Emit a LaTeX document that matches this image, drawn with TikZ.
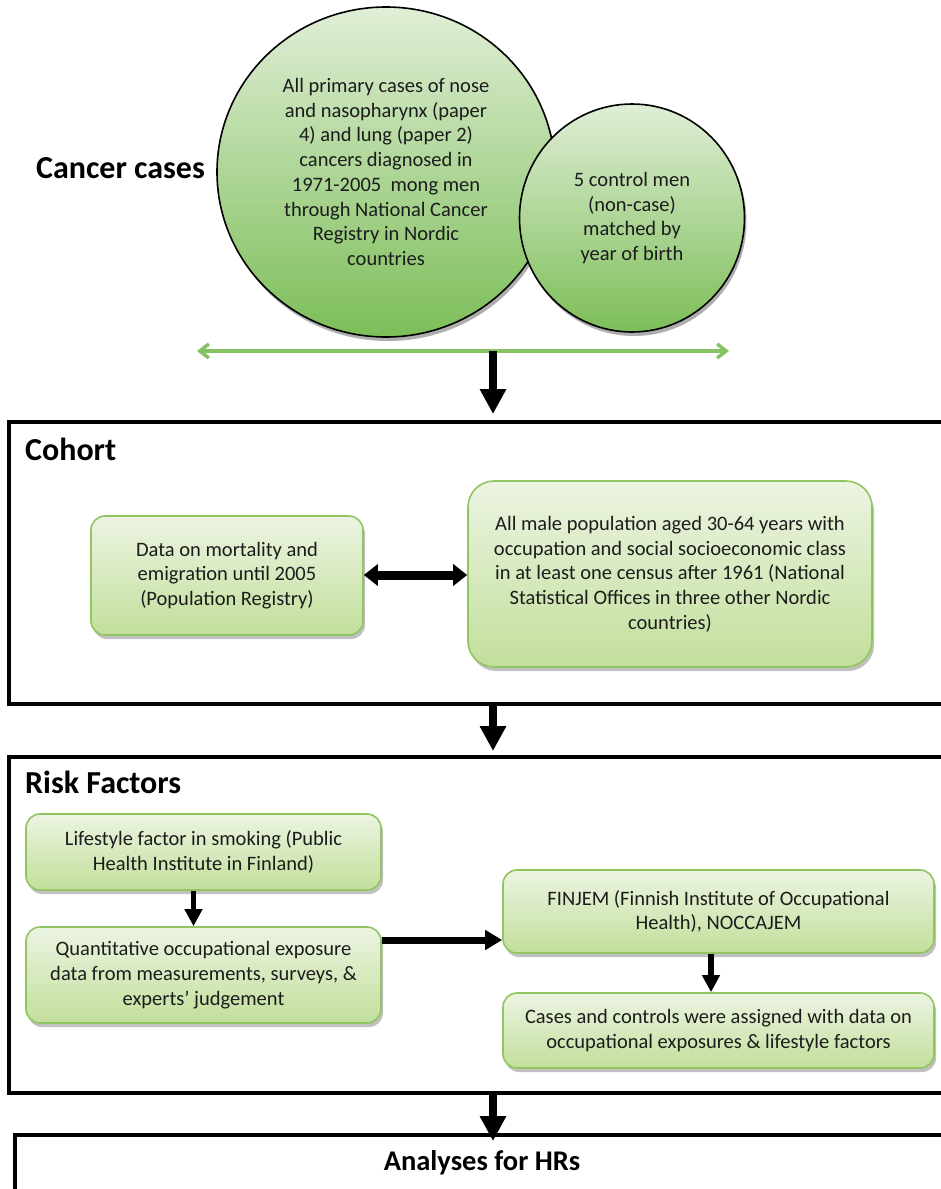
\documentclass[tikz,border=0pt]{standalone}
\usepackage{fontspec}
\setmainfont{Carlito}
\usetikzlibrary{arrows.meta,shadows,shapes.geometric,calc}

\definecolor{gbord}{RGB}{146,196,98}
\definecolor{gtop}{RGB}{236,244,226}
\definecolor{gbot}{RGB}{194,223,155}
\definecolor{etop}{RGB}{224,238,214}
\definecolor{emid}{RGB}{160,209,126}
\definecolor{ebot}{RGB}{124,190,88}
\definecolor{gline}{RGB}{132,194,98}
\definecolor{txt}{RGB}{28,28,28}

\tikzset{
  bodyfont/.style={font=\fontsize{20.5}{24.7}\selectfont},
  headfont/.style={font=\fontsize{32}{38}\selectfont\bfseries},
  gbox/.style={draw=gbord, line width=1.6pt, rounded corners=14pt,
    top color=gtop, bottom color=gbot, align=center, text=txt, inner sep=0pt,
    bodyfont,
    drop shadow={shadow xshift=2pt, shadow yshift=-4pt, opacity=0.35, fill=black!70}},
  gell/.style={ellipse, draw=black, line width=1.6pt, inner sep=0pt,
    top color=etop, middle color=emid, bottom color=ebot, align=center, text=txt,
    bodyfont,
    drop shadow={shadow xshift=2pt, shadow yshift=-4pt, opacity=0.45, fill=black!70}},
  container/.style={draw=black, line width=3.6pt, anchor=north west, inner sep=0pt},
  title/.style={anchor=base west, inner sep=0pt, headfont, text=black},
  fatarrow/.style={draw=black, line width=8pt, -{Triangle[width=25pt,length=25pt]}},
  dblarrow/.style={draw=black, line width=9pt, {Triangle[width=21pt,length=14pt]}-{Triangle[width=21pt,length=14pt]}},
  smallarrow/.style={draw=black, line width=5.5pt, -{Triangle[width=17pt,length=17pt]}},
  medarrow/.style={draw=black, line width=7pt, -{Triangle[width=19pt,length=17pt]}},
  greenarrow/.style={draw=gline, line width=3.5pt, {Straight Barb[length=9pt,width=14pt]}-{Straight Barb[length=9pt,width=14pt]}},
}

\begin{document}
\begin{tikzpicture}[x=1pt,y=-1pt]
\useasboundingbox[fill=white] (0,0) rectangle (941,1189);

% Cancer cases
\node[title] (cctitle) at (36,178) {Cancer cases};
\node[gell, minimum width=338pt, minimum height=330pt] (big) at (386,172)
  {All primary cases of nose\\and nasopharynx (paper\\4) and lung (paper 2)\\cancers diagnosed in\\1971-2005~ mong men\\through National Cancer\\Registry in Nordic\\countries};
\node[gell, minimum width=225pt, minimum height=228pt] (small) at (632,218)
  {5 control men\\(non-case)\\matched by\\year of birth};

\coordinate (gl) at (197,351);
\coordinate (gr) at (729,351);
\coordinate (gdown) at (493,351);
\draw[greenarrow] (gl) -- (gr);

% Cohort
\node[container, minimum width=990pt, minimum height=282pt] (cohort) at (7,420) {};
\node[title] (cohorttitle) at (25,460) {Cohort};
\node[gbox, minimum width=272pt, minimum height=119pt] (mort) at (227,575.5)
  {Data on mortality and\\emigration until 2005\\(Population Registry)};
\node[gbox, rounded corners=26pt, minimum width=404pt, minimum height=186pt] (male) at (670,574)
  {All male population aged 30-64 years with\\occupation and social socioeconomic class\\in at least one census after 1961 (National\\Statistical Offices in three other Nordic\\countries)};

% Risk factors
\node[container, minimum width=990pt, minimum height=336pt] (risk) at (7,755) {};
\node[title] (risktitle) at (25,793) {Risk Factors};
\node[gbox, minimum width=355pt, minimum height=76pt] (life) at (203.5,852)
  {Lifestyle factor in smoking (Public\\Health Institute in Finland)};
\node[gbox, minimum width=355pt, minimum height=96pt] (quant) at (203.5,975)
  {Quantitative occupational exposure\\data from measurements, surveys, \&\\experts’ judgement};
\node[gbox, minimum width=431pt, minimum height=83pt] (finjem) at (718.5,911.5)
  {FINJEM (Finnish Institute of Occupational\\Health), NOCCAJEM};
\node[gbox, minimum width=431pt, minimum height=75pt] (cases) at (718.5,1030.5)
  {Cases and controls were assigned with data on\\occupational exposures \& lifestyle factors};

% Analyses
\node[container, minimum width=990pt, minimum height=120pt] (anal) at (13,1133) {};
\node[anchor=base, inner sep=0pt, font=\fontsize{28.5}{34}\selectfont\bfseries] (analtitle) at (482,1170) {Analyses for HRs};

% connectors
\coordinate (qf) at (0,940);
\coordinate (dy) at (0,575);
\draw[fatarrow] (gdown) -- ([yshift=6pt]gdown |- cohort.north);
\draw[fatarrow] (gdown |- cohort.south) -- ([yshift=4pt]gdown |- risk.north);
\draw[fatarrow] (gdown |- risk.south) -- ([yshift=-8pt]gdown |- anal.north);
\draw[dblarrow] (mort.east |- dy) -- (male.west |- dy);
\draw[smallarrow] ([xshift=-10pt]life.south) -- ([xshift=-10pt]quant.north);
\draw[medarrow] (quant.east |- qf) -- (finjem.west |- qf);
\draw[smallarrow] ([xshift=-7.5pt]finjem.south) -- ([xshift=-7.5pt]cases.north);
\end{tikzpicture}
\end{document}
